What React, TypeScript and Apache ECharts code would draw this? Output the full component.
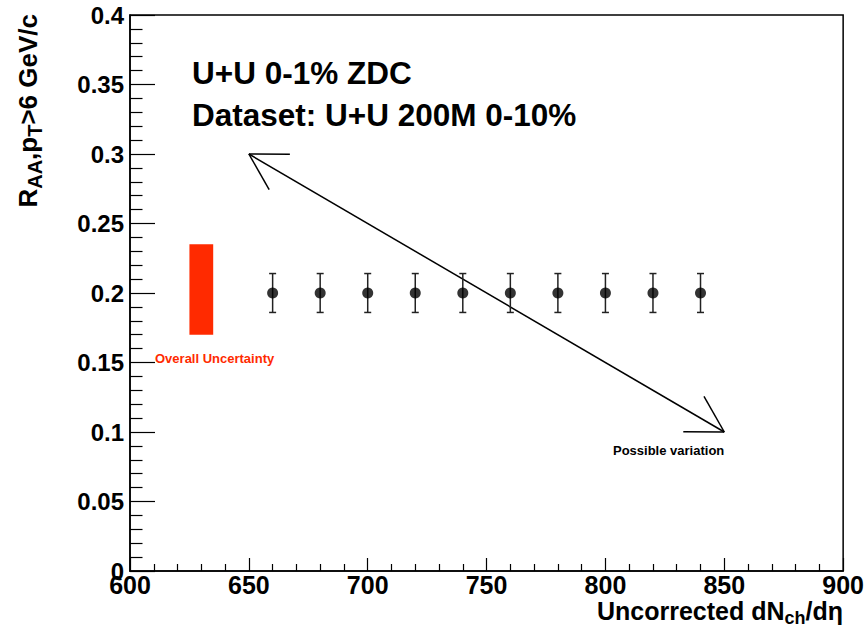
import React, { useEffect, useRef } from "react";
import * as echarts from "echarts";

// ---- data ----
const multiplicity = [660, 680, 700, 720, 740, 760, 780, 800, 820, 840];
const raaValues = [0.2, 0.2, 0.2, 0.2, 0.2, 0.2, 0.2, 0.2, 0.2, 0.2];
const raaErrors = [0.014, 0.014, 0.014, 0.014, 0.014, 0.014, 0.014, 0.014, 0.014, 0.014];
// overall uncertainty box: [xLow, xHigh, yLow, yHigh]
const uncertaintyBox = [625, 635, 0.17, 0.235];
// double arrow "possible variation": [x1, y1, x2, y2]
const variationArrow = [650, 0.3, 850, 0.1];
const xTicks = [600, 650, 700, 750, 800, 850, 900];
const yTicks = [0, 0.05, 0.1, 0.15, 0.2, 0.25, 0.3, 0.35, 0.4];

const FONT = "'Liberation Sans', Arial, Helvetica, sans-serif";

export default function App() {
  const ref = useRef<HTMLDivElement>(null);
  useEffect(() => {
    document.body.style.margin = "0";
    const chart = echarts.init(ref.current!, null, { renderer: "svg" });
    const errData = multiplicity.map((x, i) => [x, raaValues[i], raaErrors[i]]);
    const ptData = multiplicity.map((x, i) => [x, raaValues[i]]);
    const option: any = {
      animation: false,
      backgroundColor: "#ffffff",
      grid: {
        left: 130,
        right: 20,
        top: 15,
        bottom: 60,
        show: true,
        borderColor: "#000",
        borderWidth: 1.5,
        backgroundColor: "transparent",
      },
      xAxis: {
        type: "value",
        min: xTicks[0],
        max: xTicks[xTicks.length - 1],
        interval: xTicks[1] - xTicks[0],
        axisLine: { show: true, lineStyle: { color: "#000", width: 1.5 } },
        axisTick: { show: true, inside: true, length: 13, lineStyle: { color: "#000", width: 1.2 } },
        minorTick: { show: true, splitNumber: 5, length: 7, lineStyle: { color: "#000", width: 1.2 } },
        splitLine: { show: false },
        axisLabel: {
          color: "#000",
          fontSize: 25,
          fontWeight: "bold",
          fontFamily: FONT,
          margin: 1,
          showMinLabel: true,
          showMaxLabel: true,
        },
      },
      yAxis: {
        type: "value",
        min: yTicks[0],
        max: yTicks[yTicks.length - 1],
        interval: yTicks[1] - yTicks[0],
        axisLine: { show: true, lineStyle: { color: "#000", width: 1.5 } },
        axisTick: { show: true, inside: true, length: 25, lineStyle: { color: "#000", width: 1.2 } },
        minorTick: { show: true, splitNumber: 5, length: 12.5, lineStyle: { color: "#000", width: 1.2 } },
        splitLine: { show: false },
        axisLabel: {
          color: "#000",
          fontSize: 24,
          fontWeight: "bold",
          fontFamily: FONT,
          margin: 6,
          formatter: (v: number) => String(Math.round(v * 100) / 100),
        },
      },
      series: [
        {
          type: "custom",
          name: "uncertainty",
          data: [uncertaintyBox],
          encode: { x: [0, 1], y: [2, 3] },
          renderItem: (params: any, api: any) => {
            const p1 = api.coord([api.value(0), api.value(3)]);
            const p2 = api.coord([api.value(1), api.value(2)]);
            return {
              type: "rect",
              shape: { x: p1[0], y: p1[1], width: p2[0] - p1[0], height: p2[1] - p1[1] },
              style: { fill: "#ff2a00" },
            };
          },
        },
        {
          type: "custom",
          name: "arrow",
          data: [variationArrow],
          encode: { x: [0, 2], y: [1, 3] },
          renderItem: (params: any, api: any) => {
            const a = api.coord([api.value(0), api.value(1)]);
            const b = api.coord([api.value(2), api.value(3)]);
            const L = 41;
            const half = Math.PI / 6;
            const angAB = Math.atan2(b[1] - a[1], b[0] - a[0]);
            const angBA = angAB + Math.PI;
            const head = (p: number[], ang: number) => [
              [p[0] + L * Math.cos(ang - half), p[1] + L * Math.sin(ang - half)],
              [p[0] + L * Math.cos(ang + half), p[1] + L * Math.sin(ang + half)],
            ];
            const ha = head(a, angAB);
            const hb = head(b, angBA);
            const st = { stroke: "#000", lineWidth: 1.5 };
            const ln = (p: number[], q: number[]) => ({
              type: "line",
              shape: { x1: p[0], y1: p[1], x2: q[0], y2: q[1] },
              style: st,
            });
            return {
              type: "group",
              children: [ln(a, b), ln(a, ha[0]), ln(a, ha[1]), ln(b, hb[0]), ln(b, hb[1])],
            };
          },
        },
        {
          type: "custom",
          name: "errors",
          data: errData,
          encode: { x: 0, y: 1 },
          renderItem: (params: any, api: any) => {
            const x = api.value(0);
            const y = api.value(1);
            const e = api.value(2);
            const top = api.coord([x, y + e]);
            const bot = api.coord([x, y - e]);
            const c = 3.5;
            const st = { stroke: "#222", lineWidth: 1.5 };
            return {
              type: "group",
              children: [
                { type: "line", shape: { x1: top[0], y1: top[1], x2: bot[0], y2: bot[1] }, style: st },
                { type: "line", shape: { x1: top[0] - c, y1: top[1], x2: top[0] + c, y2: top[1] }, style: st },
                { type: "line", shape: { x1: bot[0] - c, y1: bot[1], x2: bot[0] + c, y2: bot[1] }, style: st },
              ],
            };
          },
        },
        {
          type: "scatter",
          name: "RAA",
          data: ptData,
          symbol: "circle",
          symbolSize: 11,
          itemStyle: { color: "#000" },
          z: 5,
        },
      ],
      graphic: [
        {
          type: "text",
          x: 192,
          y: 72.5,
          style: {
            text: "U+U 0-1% ZDC",
            font: `bold 31.5px ${FONT}`,
            fill: "#000",
            align: "left",
            verticalAlign: "middle",
          },
        },
        {
          type: "text",
          x: 192,
          y: 114.5,
          style: {
            text: "Dataset: U+U 200M 0-10%",
            font: `bold 31.5px ${FONT}`,
            fill: "#000",
            align: "left",
            verticalAlign: "middle",
          },
        },
        {
          type: "text",
          x: 155,
          y: 358,
          style: {
            text: "Overall Uncertainty",
            font: `bold 13px ${FONT}`,
            fill: "#ff2a00",
            align: "left",
            verticalAlign: "middle",
          },
        },
        {
          type: "text",
          x: 613,
          y: 450.5,
          style: {
            text: "Possible variation",
            font: `bold 13px ${FONT}`,
            fill: "#000",
            align: "left",
            verticalAlign: "middle",
          },
        },
        {
          type: "text",
          x: 843,
          y: 611,
          style: {
            text: "Uncorrected dN{sub|ch}/dη",
            font: `bold 25px ${FONT}`,
            fontSize: 25,
            fontWeight: "bold",
            fontFamily: FONT,
            fill: "#000",
            align: "right",
            verticalAlign: "middle",
            rich: {
              sub: { fontSize: 18, fontWeight: "bold", fontFamily: FONT, fill: "#000", padding: [14, 0, 0, 0] },
            },
          },
        },
        {
          type: "text",
          x: 28,
          y: 14,
          rotation: Math.PI / 2,
          style: {
            text: "R{sub|AA},p{sub|T}>6 GeV/c",
            font: `bold 26px ${FONT}`,
            fontSize: 26,
            fontWeight: "bold",
            fontFamily: FONT,
            fill: "#000",
            align: "right",
            verticalAlign: "middle",
            rich: {
              sub: { fontSize: 20, fontWeight: "bold", fontFamily: FONT, fill: "#000", padding: [14, 0, 0, 0] },
            },
          },
        },
      ],
    };
    chart.setOption(option);
    return () => chart.dispose();
  }, []);
  return <div ref={ref} style={{ width: 867, height: 631 }} />;
}
